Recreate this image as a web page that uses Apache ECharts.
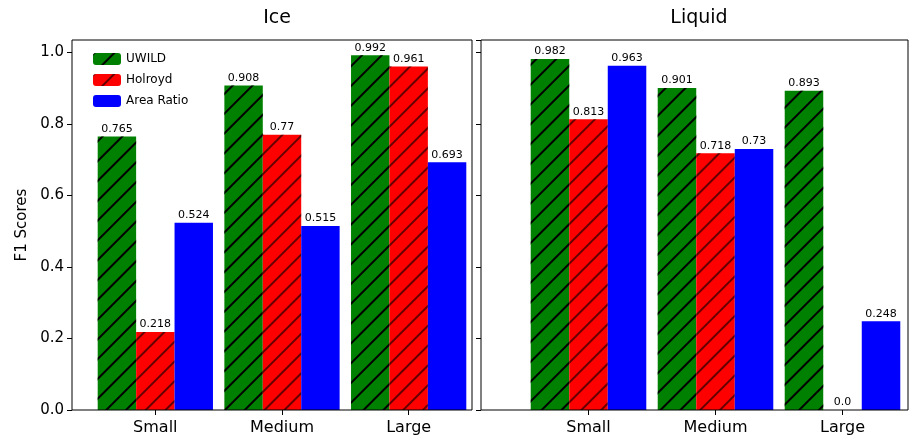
<!DOCTYPE html>
<html>
<head>
<meta charset="utf-8">
<script src="https://cdn.jsdelivr.net/npm/echarts@6/dist/echarts.min.js"></script>
<style>html,body{margin:0;padding:0;background:#fff}#chart{width:909px;height:445px}</style>
</head>
<body>
<div id="chart"></div>
<script>
var categories = ['Small', 'Medium', 'Large'];
var seriesNames = ['UWILD', 'Holroyd', 'Area Ratio'];
var iceUwild = [0.765, 0.908, 0.992];
var iceHolroyd = [0.218, 0.77, 0.961];
var iceArea = [0.524, 0.515, 0.693];
var liqUwild = [0.982, 0.901, 0.893];
var liqHolroyd = [0.813, 0.718, 0.0];
var liqArea = [0.963, 0.73, 0.248];
var yTicks = [0, 0.2, 0.4, 0.6, 0.8, 1.0];

var chart = echarts.init(document.getElementById('chart'));
var font = 'DejaVu Sans';

// hatch pattern "/"
var hatch = {
  symbol: 'rect',
  color: '#000',
  backgroundColor: null,
  dashArrayX: [1, 0],
  dashArrayY: [1.2, 12],
  rotation: -Math.PI / 4
};
var noDecal = { symbol: 'none' };

function bars(name, data, color, xi, hatched) {
  return {
    name: name,
    type: 'bar',
    xAxisIndex: xi,
    yAxisIndex: xi,
    data: data,
    barGap: '0%',
    barCategoryGap: '9%',
    itemStyle: { color: color, decal: hatched ? hatch : noDecal },
    label: {
      show: true, position: 'top', distance: 2,
      fontFamily: font, fontSize: 11, color: '#000',
      formatter: function (p) { return p.value === 0 ? '0.0' : String(p.value); }
    }
  };
}

function xAxis(i) {
  return {
    type: 'category', gridIndex: i, data: categories,
    axisLine: { show: false },
    axisTick: { show: true, alignWithLabel: true, length: 5, lineStyle: { color: '#000' } },
    axisLabel: { fontFamily: font, fontSize: 16, color: '#000', margin: 10 }
  };
}
function yAxis(i, off) {
  return {
    type: 'value', gridIndex: i, min: 0, max: 1.035, interval: 0.2, offset: off,
    axisLine: { show: false },
    axisTick: { show: true, length: 5, lineStyle: { color: '#000' } },
    splitLine: { show: false },
    axisLabel: {
      show: i === 0, fontFamily: font, fontSize: 15, color: '#000',
      formatter: function (v) { return yTicks.indexOf(Math.round(v * 10) / 10) >= 0 ? v.toFixed(1) : ''; }
    },
    name: i === 0 ? 'F1 Scores' : '', nameLocation: 'middle', nameGap: 42,
    nameTextStyle: { fontFamily: font, fontSize: 15, color: '#000' }
  };
}

var option = {
  animation: false,
  aria: { enabled: true, decal: { show: true } },
  title: [
    { text: 'Ice', left: 272, top: 4, textAlign: 'center', textStyle: { fontFamily: font, fontSize: 19, fontWeight: 'normal', color: '#000' } },
    { text: 'Liquid', left: 694, top: 4, textAlign: 'center', textStyle: { fontFamily: font, fontSize: 19, fontWeight: 'normal', color: '#000' } }
  ],
  legend: {
    orient: 'vertical', left: 88, top: 48, itemWidth: 28, itemHeight: 12, itemGap: 9,
    data: seriesNames,
    textStyle: { fontFamily: font, fontSize: 12, color: '#000' }
  },
  graphic: [
    { type: 'rect', shape: { x: 72, y: 40, width: 400, height: 370 }, style: { fill: null, stroke: '#000', lineWidth: 1 }, z: 100, silent: true },
    { type: 'rect', shape: { x: 481, y: 40, width: 427, height: 370 }, style: { fill: null, stroke: '#000', lineWidth: 1 }, z: 100, silent: true }
  ],
  grid: [
    { left: 92, top: 40, width: 380, height: 370 },
    { left: 525, top: 40, width: 381, height: 370 }
  ],
  xAxis: [xAxis(0), xAxis(1)],
  yAxis: [yAxis(0, 20), yAxis(1, 44)],
  series: [
    bars('UWILD', iceUwild, '#008000', 0, true),
    bars('Holroyd', iceHolroyd, '#ff0000', 0, true),
    bars('Area Ratio', iceArea, '#0000ff', 0, false),
    bars('UWILD', liqUwild, '#008000', 1, true),
    bars('Holroyd', liqHolroyd, '#ff0000', 1, true),
    bars('Area Ratio', liqArea, '#0000ff', 1, false)
  ]
};
chart.setOption(option);
</script>
</body>
</html>
